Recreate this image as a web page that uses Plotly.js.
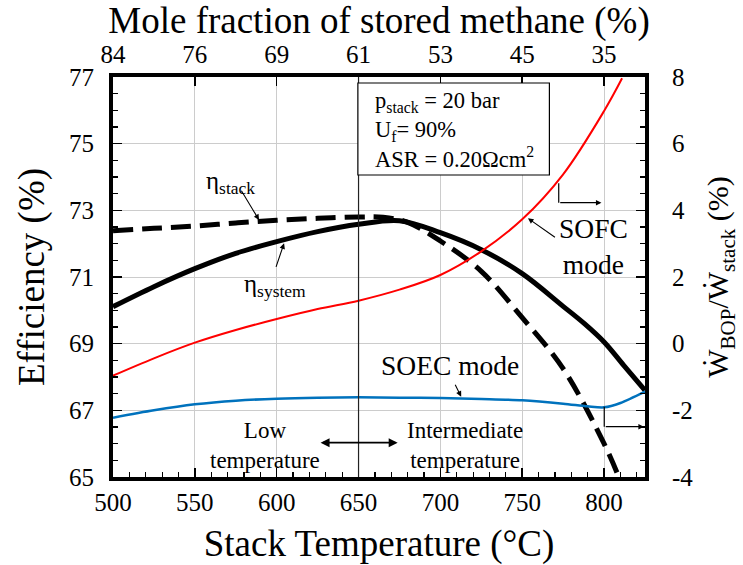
<!DOCTYPE html>
<html>
<head>
<meta charset="utf-8">
<script src="https://cdn.plot.ly/plotly-3.0.1.min.js"></script>
<style>html,body{margin:0;padding:0;background:#fff;}#chart{width:743px;height:565px;}</style>
</head>
<body>
<div id="chart"></div>
<script>
// ---- data ----
const tempStack = [500, 525, 550, 575, 600, 625, 650, 665, 680, 700, 725, 750, 775, 800, 809];
const etaStack  = [72.39, 72.46, 72.53, 72.62, 72.70, 72.76, 72.80, 72.79, 72.64, 72.08, 71.17, 69.78, 68.25, 66.0, 65.0];

const tempSystem = [500, 525, 550, 575, 600, 625, 650, 675, 700, 725, 750, 775, 788, 800, 812, 825];
const etaSystem  = [70.11, 70.71, 71.25, 71.71, 72.06, 72.36, 72.58, 72.69, 72.33, 71.82, 71.1, 70.12, 69.6, 69.05, 68.35, 67.6];

const tempSofc = [500, 525, 550, 575, 600, 625, 650, 675, 700, 725, 750, 775, 800, 811];
const bopSofc  = [-0.96, -0.44, 0.03, 0.41, 0.74, 1.04, 1.29, 1.62, 2.06, 2.77, 3.73, 5.08, 6.98, 7.96];

const tempSoec = [500, 525, 550, 575, 600, 625, 650, 675, 700, 725, 750, 775, 790, 800, 810, 825];
const bopSoec  = [-2.22, -2.0, -1.82, -1.71, -1.65, -1.62, -1.61, -1.62, -1.63, -1.66, -1.70, -1.80, -1.88, -1.91, -1.78, -1.44];

const tempTicks = [500, 550, 600, 650, 700, 750, 800];
const methaneTickText = ['84', '76', '69', '61', '53', '45', '35'];
const effTicks = [65, 67, 69, 71, 73, 75, 77];
const bopTicks = [-4, -2, 0, 2, 4, 6, 8];
const bopTickText = ['-4', '-2', '0', '2', '4', '6', '8'];

// ---- styling ----
const FONT = 'Liberation Serif, Times New Roman, DejaVu Serif, serif';
const tickFont = {family: FONT, size: 25, color: '#000'};
const titleFont = {family: FONT, size: 37, color: '#000'};

const traces = [
  {x: tempSofc, y: bopSofc, xaxis: 'x', yaxis: 'y2', mode: 'lines',
   line: {color: '#ff0000', width: 2, shape: 'spline', smoothing: 1}, hoverinfo: 'skip'},
  {x: tempSoec, y: bopSoec, xaxis: 'x', yaxis: 'y2', mode: 'lines',
   line: {color: '#0072bd', width: 2.5, shape: 'spline', smoothing: 0.8}, hoverinfo: 'skip'},
  {x: tempSystem, y: etaSystem, xaxis: 'x', yaxis: 'y', mode: 'lines',
   line: {color: '#000', width: 5, shape: 'spline', smoothing: 1}, hoverinfo: 'skip'},
  {x: tempStack, y: etaStack, xaxis: 'x', yaxis: 'y', mode: 'lines',
   line: {color: '#000', width: 5, dash: '20px,9px', shape: 'spline', smoothing: 1}, hoverinfo: 'skip'},
  {x: [], y: [], xaxis: 'x2', yaxis: 'y', mode: 'lines', hoverinfo: 'skip'}
];

const arrow = (x, y, ax, ay, extra) => Object.assign({
  x: x, y: y, ax: ax, ay: ay, xref: 'x', yref: 'y', axref: 'x', ayref: 'y',
  text: '', showarrow: true, arrowhead: 2, arrowsize: 1, arrowwidth: 1.1, arrowcolor: '#000'
}, extra || {});

const label = (x, y, text, size, extra) => Object.assign({
  x: x, y: y, xref: 'x', yref: 'y', text: text, showarrow: false,
  font: {family: FONT, size: size, color: '#000'}, xanchor: 'center', yanchor: 'middle'
}, extra || {});

const annotations = [
  label(571.8, 73.85, 'η<sub>stack</sub>', 25),
  arrow(589.2, 72.71, 577.9, 73.63),
  label(599, 70.76, 'η<sub>system</sub>', 25),
  arrow(604.5, 72.01, 599.3, 71.26),
  label(658.8, 76.74, 'p<sub>stack</sub> = 20 bar<br>U<sub>f</sub>= 90%<br>ASR = 0.20Ωcm<sup>2</sup>', 22.5,
        {xanchor: 'left', yanchor: 'top', align: 'left'}),
  label(793.5, 71.93, 'SOFC<br>mode', 27.5),
  arrow(753.5, 72.76, 770.9, 72.16),
  arrow(798.4, 73.23, 772.3, 73.23),
  label(706, 68.36, 'SOEC mode', 27.5),
  arrow(712.7, 67.41, 708.6, 67.81),
  arrow(824.3, 66.51, 800.1, 66.51),
  label(592.7, 65.96, 'Low<br>temperature', 23),
  label(715.1, 65.96, 'Intermediate<br>temperature', 23),
  arrow(673.9, 66.03, 625.9, 66.03, {arrowside: 'end+start', arrowwidth: 1.8})
];

const shapes = [
  {type: 'line', xref: 'x', yref: 'paper', x0: 650, x1: 650, y0: 0, y1: 1,
   line: {color: '#222', width: 1.2}},
  {type: 'rect', xref: 'x', yref: 'y', x0: 649.6, x1: 766.6, y0: 74.06, y1: 76.82,
   line: {color: '#000', width: 1.2}, fillcolor: '#fff', layer: 'above'},
  {type: 'line', xref: 'x', yref: 'y', x0: 772.3, x1: 772.3, y0: 73.81, y1: 73.23,
   line: {color: '#000', width: 1.2}},
  {type: 'line', xref: 'x', yref: 'y', x0: 800.1, x1: 800.1, y0: 67.11, y1: 66.51,
   line: {color: '#000', width: 1.2}}
];

const layout = {
  width: 743, height: 565,
  margin: {l: 113, r: 98, t: 77, b: 88, pad: 0},
  paper_bgcolor: '#fff', plot_bgcolor: '#fff',
  showlegend: false,
  font: {family: FONT, color: '#000'},
  xaxis: {
    range: [500, 825], tickvals: tempTicks, ticks: 'inside', ticklen: 9, tickwidth: 1.5, tickcolor: '#000',
    showline: true, linewidth: 4, linecolor: '#000', showgrid: true, gridcolor: '#cccccc', gridwidth: 1,
    zeroline: false, tickfont: tickFont, automargin: false,
    minor: {dtick: 10, ticks: 'inside', ticklen: 5, tickwidth: 1.2, tickcolor: '#000', showgrid: false},
    title: {text: 'Stack Temperature (°C)', font: titleFont}
  },
  xaxis2: {
    overlaying: 'x', side: 'top', anchor: 'y',
    range: [500, 825], tickvals: tempTicks, ticktext: methaneTickText,
    ticks: 'inside', ticklen: 9, tickwidth: 1.5, tickcolor: '#000',
    showline: true, linewidth: 4, linecolor: '#000', showgrid: false, zeroline: false,
    tickfont: tickFont, automargin: false,
    title: {text: 'Mole fraction of stored methane (%)', font: titleFont}
  },
  yaxis: {
    range: [65, 77], tickvals: effTicks, ticks: 'inside', ticklen: 9, tickwidth: 1.5, tickcolor: '#000',
    showline: true, linewidth: 4, linecolor: '#000', showgrid: true, gridcolor: '#cccccc', gridwidth: 1,
    zeroline: false, tickfont: tickFont, automargin: false, ticklabelstandoff: 10,
    minor: {dtick: 0.5, ticks: 'inside', ticklen: 5, tickwidth: 1.2, tickcolor: '#000', showgrid: false},
    title: {text: 'Efficiency (%)', font: titleFont, standoff: 14}
  },
  yaxis2: {
    overlaying: 'y', side: 'right', anchor: 'x',
    range: [-4, 8], tickvals: bopTicks, ticktext: bopTickText, ticks: 'inside', ticklen: 9, tickwidth: 1.5, tickcolor: '#000',
    showline: true, linewidth: 4, linecolor: '#000', showgrid: false, zeroline: false,
    tickfont: tickFont, automargin: false, ticklabelstandoff: 18,
    minor: {dtick: 0.5, ticks: 'inside', ticklen: 5, tickwidth: 1.2, tickcolor: '#000', showgrid: false},
    title: {text: 'Ẇ<sub>BOP</sub>/Ẇ<sub>stack</sub> (%)', font: {family: FONT, size: 30, color: '#000'}, standoff: 16}
  },
  annotations: annotations,
  shapes: shapes
};

Plotly.newPlot('chart', traces, layout, {staticPlot: true, displayModeBar: false});
</script>
</body>
</html>
